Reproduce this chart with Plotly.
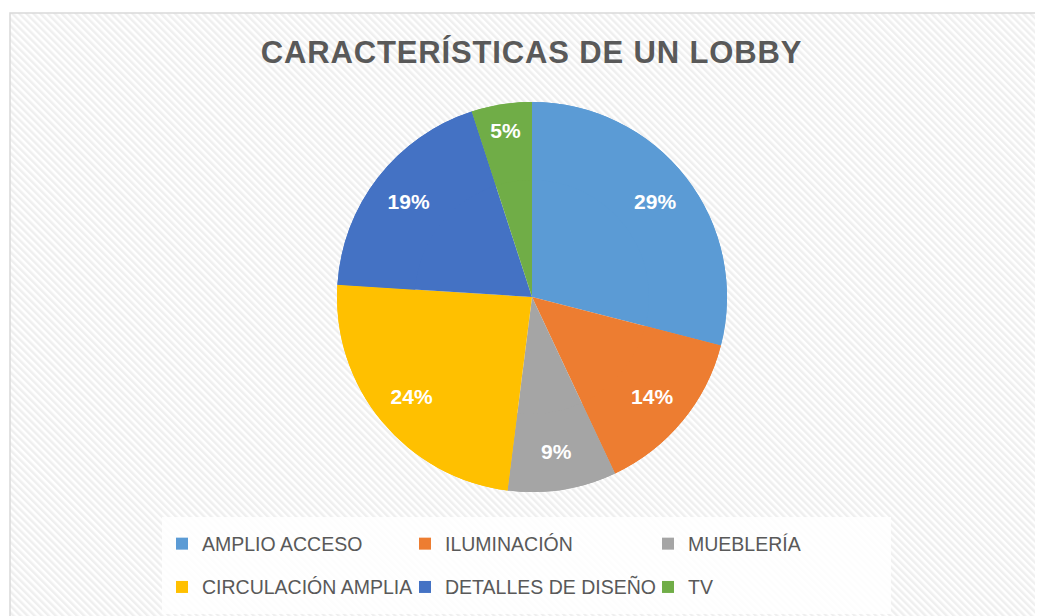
import base64
import plotly.graph_objects as go

# ---- data ----
categories = ["AMPLIO ACCESO", "ILUMINACIÓN", "MUEBLERÍA",
              "CIRCULACIÓN AMPLIA", "DETALLES DE DISEÑO", "TV"]
percentages = [29, 14, 9, 24, 19, 5]
colors = ["#5B9BD5", "#ED7D31", "#A5A5A5", "#FFC000", "#4472C4", "#70AD47"]
title_text = "CARACTERÍSTICAS DE UN LOBBY"

# page body has an 8px margin, so the figure is laid out in shifted coords
OFF = 8
W, H = 1043 - OFF, 616 - OFF
ML, MR = 140, 135
GW = W - ML - MR


def px_x(p):
    return (p - OFF - ML) / GW


def px_y(p):
    return 1 - (p - OFF) / H


# striped background as an inline svg
BW, BH = W - (10 - OFF), H - (13 - OFF)
svg = (
    f'<svg xmlns="http://www.w3.org/2000/svg" width="{BW}" height="{BH}">'
    '<defs><pattern id="p" width="5" height="5" patternUnits="userSpaceOnUse" '
    'patternTransform="rotate(-45)">'
    '<rect width="5" height="5" fill="#ffffff"/>'
    '<rect width="2.5" height="5" fill="#efefef"/></pattern></defs>'
    f'<rect width="{BW}" height="{BH}" fill="url(#p)"/></svg>'
)
svg_uri = "data:image/svg+xml;base64," + base64.b64encode(svg.encode()).decode()

legend_labels = [
    f"<span style='font-size:19.5px;baseline-shift:5px'>{c}</span>" for c in categories
]

pie_domain = dict(x=[px_x(337), px_x(727)], y=[px_y(492), px_y(102)])

fig = go.Figure()
# full pie (fills the centre)
fig.add_trace(
    go.Pie(
        labels=legend_labels,
        values=percentages,
        sort=False,
        direction="clockwise",
        rotation=0,
        marker=dict(colors=colors, line=dict(width=0)),
        textinfo="none",
        domain=pie_domain,
        showlegend=False,
        hoverinfo="skip",
    )
)
# same pie as an outer ring, which carries the percentage labels at ~0.8 R
fig.add_trace(
    go.Pie(
        labels=legend_labels,
        values=percentages,
        sort=False,
        direction="clockwise",
        rotation=0,
        hole=0.6,
        marker=dict(colors=colors, line=dict(width=0)),
        texttemplate="%{value}%",
        textposition="inside",
        insidetextorientation="horizontal",
        textfont=dict(family="Liberation Sans", size=21, color="white", weight="bold"),
        domain=pie_domain,
        hoverinfo="skip",
    )
)

fig.update_layout(
    width=W,
    height=H,
    margin=dict(l=ML, r=MR, t=0, b=0, autoexpand=False),
    paper_bgcolor="white",
    plot_bgcolor="white",
    title=dict(
        text=f"<span style='letter-spacing:0.85px'>{title_text}</span>",
        x=(531.5 - OFF) / W,
        xanchor="center",
        y=1 - (52 - OFF) / H,
        yanchor="middle",
        font=dict(family="Liberation Sans", size=31, color="#595959", weight="bold"),
    ),
    legend=dict(
        orientation="h",
        x=px_x(162),
        xanchor="left",
        y=px_y(517),
        yanchor="top",
        entrywidth=198,
        entrywidthmode="pixels",
        bgcolor="rgba(255,255,255,0.85)",
        font=dict(family="Liberation Sans", size=31, color="#595959"),
        traceorder="normal",
    ),
    images=[
        dict(
            source=svg_uri,
            xref="paper",
            yref="paper",
            x=px_x(10),
            y=px_y(13),
            sizex=BW / GW,
            sizey=BH / H,
            xanchor="left",
            yanchor="top",
            sizing="stretch",
            layer="below",
        )
    ],
    shapes=[
        dict(
            type="rect",
            xref="paper",
            yref="paper",
            x0=px_x(10),
            x1=px_x(1043 + 10),
            y0=px_y(616 + 10),
            y1=px_y(13),
            line=dict(color="#d9d9d9", width=1.5),
            fillcolor="rgba(0,0,0,0)",
            layer="below",
        )
    ],
)

fig.write_html("out.html")
